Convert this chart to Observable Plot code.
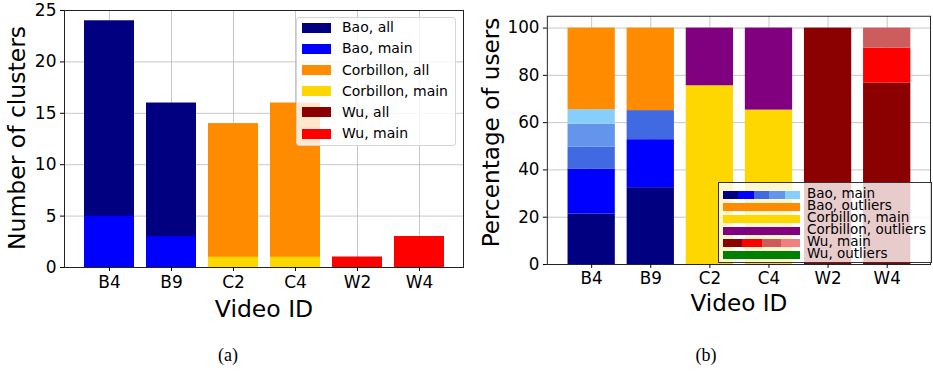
<!DOCTYPE html>
<html>
<head>
<meta charset="utf-8">
<script src="https://cdn.jsdelivr.net/npm/d3@7"></script>
<script src="https://cdn.jsdelivr.net/npm/@observablehq/plot@0.6"></script>
<style>
  html, body { margin: 0; padding: 0; background: #fff; }
  #wrap { position: relative; width: 933px; height: 372px; overflow: hidden; font-family: "DejaVu Sans", sans-serif; }
  .panel { position: absolute; top: 0; }
  .panel g[aria-label$="tick label"], .panel g[aria-label$="tick label"] text { font-size: 17px; }
  .legend { position: absolute; box-sizing: border-box; }
  .legend .patch { position: absolute; display: flex; }
  .legend .patch span { flex: 1; height: 100%; }
  .legend .lab { position: absolute; color: #000; line-height: 1; white-space: nowrap; }
  .caption { position: absolute; font-family: "Liberation Serif", "DejaVu Serif", serif; font-size: 18px; transform: translate(-50%, -50%); }
</style>
</head>
<body>
<div id="wrap"></div>
<script>
// ---------- data ----------
const videos = ["B4", "B9", "C2", "C4", "W2", "W4"];

// (a) number of clusters (bars overlaid: "all" behind "main")
const clustersAll  = [24, 16, 14, 16, 1, 3];
const clustersMain = [5, 3, 1, 1, 1, 3];
const allColors  = ["navy", "navy", "darkorange", "darkorange", "darkred", "darkred"];
const mainColors = ["blue", "blue", "gold", "gold", "red", "red"];
const yTicksA = [0, 5, 10, 15, 20, 25];
const legendALabels = ["Bao, all", "Bao, main", "Corbillon, all", "Corbillon, main", "Wu, all", "Wu, main"];
const legendAColors = ["navy", "blue", "darkorange", "gold", "darkred", "red"];

// (b) percentage of users per cluster (stacked)
const shareB4 = [21.4, 19.0, 9.3, 9.6, 6.2, 34.5];
const colorB4 = ["navy", "blue", "royalblue", "cornflowerblue", "lightskyblue", "darkorange"];
const shareB9 = [32.5, 20.3, 12.3, 34.9];
const colorB9 = ["navy", "blue", "royalblue", "darkorange"];
const shareC2 = [75.6, 24.4];
const colorC2 = ["gold", "purple"];
const shareC4 = [65.3, 34.7];
const colorC4 = ["gold", "purple"];
const shareW2 = [100];
const colorW2 = ["darkred"];
const shareW4 = [76.8, 14.7, 8.5];
const colorW4 = ["darkred", "red", "indianred"];
const yTicksB = [0, 20, 40, 60, 80, 100];
const legendBLabels = ["Bao, main", "Bao, outliers", "Corbillon, main", "Corbillon, outliers", "Wu, main", "Wu, outliers"];
const legendBColors = [
  ["navy", "blue", "royalblue", "cornflowerblue", "lightskyblue"],
  ["darkorange"],
  ["gold"],
  ["purple"],
  ["darkred", "red", "indianred", "lightcoral"],
  ["green"]
];

// ---------- build tables ----------
const tableA = videos.map((v, i) => ({video: v, all: clustersAll[i], main: clustersMain[i], cAll: allColors[i], cMain: mainColors[i]}));
const sharesByVideo = [shareB4, shareB9, shareC2, shareC4, shareW2, shareW4];
const colorsByVideo = [colorB4, colorB9, colorC2, colorC4, colorW2, colorW4];
const tableB = [];
videos.forEach((v, i) => sharesByVideo[i].forEach((s, j) => tableB.push({video: v, share: s, color: colorsByVideo[i][j]})));

const wrap = document.getElementById("wrap");
const gridStyle = {stroke: "#b0b0b0", strokeOpacity: 0.7, strokeWidth: 1};
const common = {
  height: 330,
  style: {fontFamily: "DejaVu Sans, sans-serif", fontSize: "17px", color: "#000", background: "transparent", overflow: "visible"}
};

// ---------- chart (a) ----------
const chartA = Plot.plot({
  ...common,
  width: 470,
  marginLeft: 64, marginRight: 7, marginTop: 10, marginBottom: 63,
  x: {domain: videos, paddingInner: 0.2, paddingOuter: 0.29, align: 0.5},
  y: {domain: [0, 25]},
  color: {type: "identity"},
  marks: [
    Plot.gridX({...gridStyle}),
    Plot.gridY(yTicksA, {...gridStyle}),
    Plot.barY(tableA, {x: "video", y: "all", fill: "cAll"}),
    Plot.barY(tableA, {x: "video", y: "main", fill: "cMain"}),
    Plot.frame({stroke: "#222", strokeWidth: 1}),
    Plot.axisX({tickSize: 4, tickPadding: 4, fontSize: 17, label: null}),
    Plot.axisY({ticks: yTicksA, tickSize: 4, tickPadding: 4, fontSize: 17, label: null}),
    Plot.text(["Video ID"], {frameAnchor: "bottom", dy: 42, fontSize: 23.5, lineAnchor: "middle", textAnchor: "middle"}),
    Plot.text(["Number of clusters"], {frameAnchor: "left", rotate: -90, dx: -47, dy: -1, fontSize: 23.5, lineAnchor: "middle", textAnchor: "middle"})
  ]
});
const pa = document.createElement("div");
pa.className = "panel"; pa.style.left = "0px";
pa.appendChild(chartA);
wrap.appendChild(pa);

// ---------- chart (b) ----------
const chartB = Plot.plot({
  ...common,
  width: 470,
  marginLeft: 78, marginRight: 3, marginTop: 16, marginBottom: 62,
  x: {domain: videos, paddingInner: 0.2, paddingOuter: 0.29, align: 0.5},
  y: {domain: [0, 105]},
  color: {type: "identity"},
  marks: [
    Plot.gridX({...gridStyle}),
    Plot.gridY(yTicksB, {...gridStyle}),
    Plot.barY(tableB, {x: "video", y: "share", fill: "color"}),
    Plot.frame({stroke: "#222", strokeWidth: 1}),
    Plot.axisX({tickSize: 4, tickPadding: 4, fontSize: 17, label: null}),
    Plot.axisY({ticks: yTicksB, tickSize: 4, tickPadding: 4, fontSize: 17, label: null}),
    Plot.text(["Video ID"], {frameAnchor: "bottom", dy: 40, fontSize: 23.5, lineAnchor: "middle", textAnchor: "middle"}),
    Plot.text(["Percentage of users"], {frameAnchor: "left", rotate: -90, dx: -57, dy: -8, fontSize: 23.5, lineAnchor: "middle", textAnchor: "middle"})
  ]
});
const pb = document.createElement("div");
pb.className = "panel"; pb.style.left = "470px";
pb.appendChild(chartB);
wrap.appendChild(pb);

// ---------- legends ----------
function makeLegend(box, labels, colors, opt) {
  const lg = document.createElement("div");
  lg.className = "legend";
  Object.assign(lg.style, box);
  labels.forEach((lab, i) => {
    const cy = opt.first + i * opt.step;
    const patch = document.createElement("div");
    patch.className = "patch";
    Object.assign(patch.style, {left: opt.px + "px", top: (cy - opt.ph / 2) + "px", width: opt.pw + "px", height: opt.ph + "px"});
    [].concat(colors[i]).forEach(c => { const s = document.createElement("span"); s.style.background = c; patch.appendChild(s); });
    lg.appendChild(patch);
    const t = document.createElement("div");
    t.className = "lab";
    t.textContent = lab;
    Object.assign(t.style, {left: opt.tx + "px", top: (cy - opt.fs * 0.55) + "px", fontSize: opt.fs + "px"});
    lg.appendChild(t);
  });
  wrap.appendChild(lg);
}
makeLegend(
  {left: "296px", top: "17px", width: "160px", height: "129px", background: "rgba(255,255,255,0.8)", border: "1px solid rgba(204,204,204,0.8)", borderRadius: "4px"},
  legendALabels, legendAColors,
  {first: 10, step: 21.1, px: 5, pw: 29, ph: 10, tx: 45, fs: 14}
);
makeLegend(
  {left: "718px", top: "182px", width: "214px", height: "81px", background: "rgba(255,255,255,0.8)", border: "1px solid #333"},
  legendBLabels, legendBColors,
  {first: 11.5, step: 12, px: 4, pw: 77, ph: 8, tx: 88, fs: 13.5}
);

// ---------- captions ----------
[["(a)", 228], ["(b)", 706]].forEach(([txt, x]) => {
  const c = document.createElement("div");
  c.className = "caption";
  c.textContent = txt;
  c.style.left = x + "px";
  c.style.top = "355px";
  wrap.appendChild(c);
});
</script>
</body>
</html>
